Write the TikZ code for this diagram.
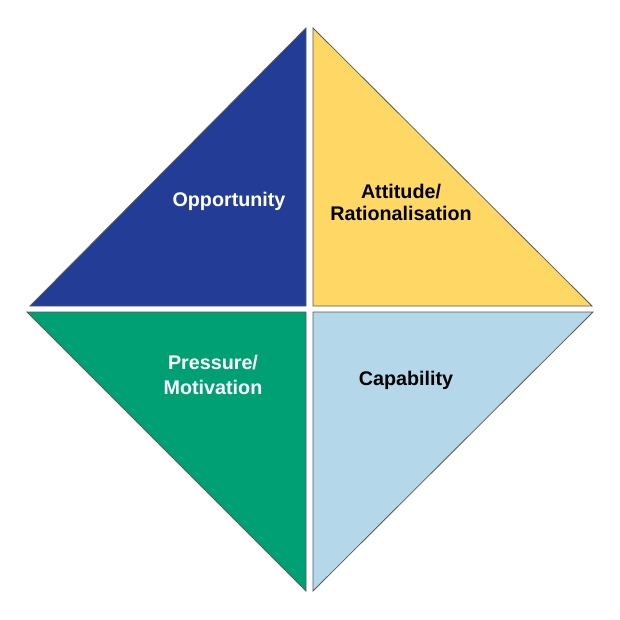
\documentclass[tikz,border=0pt]{standalone}
\usepackage{fontspec}
\setmainfont{Liberation Sans}
\definecolor{oppblue}{HTML}{233D97}
\definecolor{attyellow}{HTML}{FFD765}
\definecolor{presgreen}{HTML}{00A074}
\definecolor{capblue}{HTML}{B4D8E9}
\begin{document}
\begin{tikzpicture}[x=0.75pt, y=-0.75pt,
    part/.style={draw=black!65, line width=0.6pt},
    label/.style={font=\fontsize{14.8}{16.5}\selectfont\bfseries, align=center}]
            \useasboundingbox (0, 0) rectangle (620, 620);

            \draw[part, fill=oppblue] (30, 306) -- (306, 28) -- (306, 306) -- cycle;
            \draw[part, fill=attyellow] (313, 28) -- (592, 306) -- (313, 306) -- cycle;
            \draw[part, fill=presgreen] (27, 312) -- (306, 312) -- (306, 591) -- cycle;
            \draw[part, fill=capblue] (313, 312) -- (593, 312) -- (313, 591) -- cycle;

            \node[label, text=white] (opp) at (229, 201) {Opportunity};
            \node[label] (att) at (401, 202) {Attitude/\\Rationalisation};
            \node[label, text=white, align=center] (pres) at (213, 375) {Pressure/\\[2pt]Motivation};
            \node[label] (cap) at (406, 380) {Capability};
        \end{tikzpicture}
\end{document}
